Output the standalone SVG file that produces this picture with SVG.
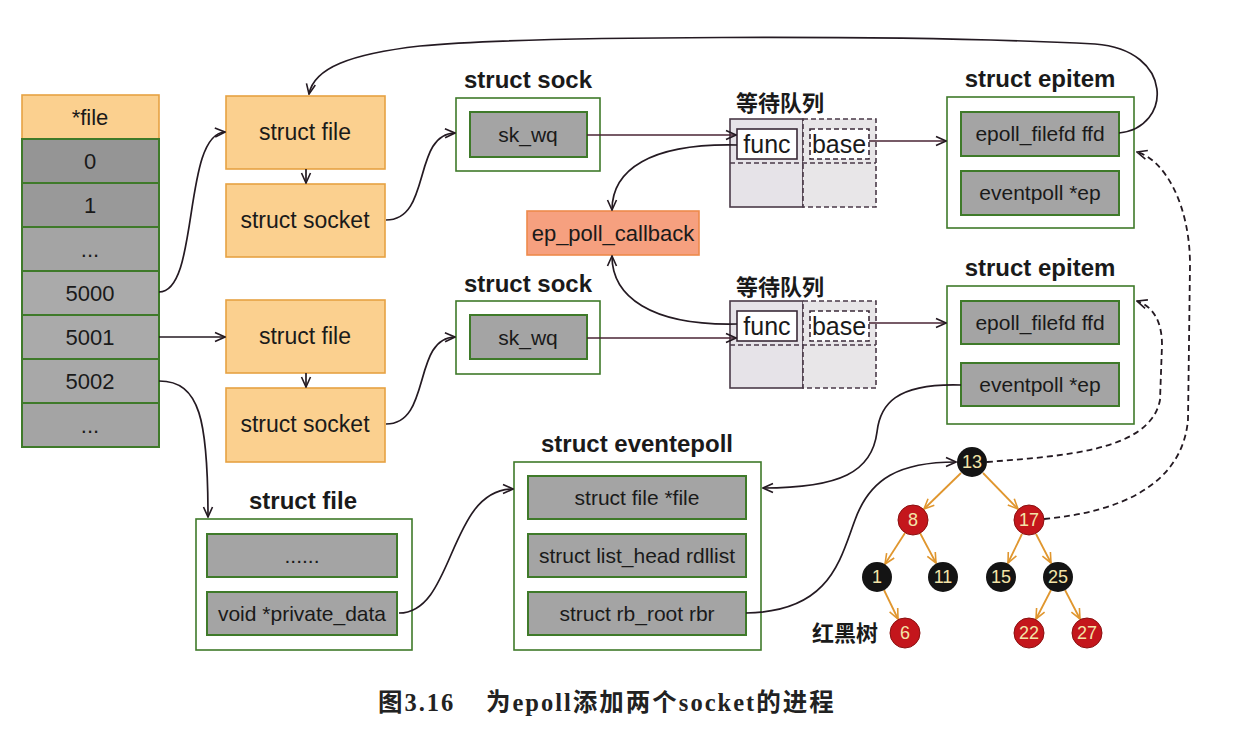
<svg xmlns="http://www.w3.org/2000/svg" width="1240" height="744" viewBox="0 0 1240 744">
<style>
text{font-family:"Liberation Sans",Arial,"Noto Sans CJK SC",sans-serif;fill:#1a1a1a}
.t22{font-size:22px}
.t23{font-size:23px}
.t21{font-size:21px}
.t25{font-size:25px}
.title{font-size:24px;font-weight:bold}
.cjk{font-family:"Noto Sans CJK SC",sans-serif;font-weight:bold;font-size:22px}
.gray{fill:#a4a4a4;stroke:#3f7a2a;stroke-width:2}
.gbox{fill:#ffffff;stroke:#3f7a2a;stroke-width:1.6}
.orange{fill:#fbd08f;stroke:#e6a243;stroke-width:1.6}
.cb{fill:#f6a07f;stroke:#ee8a4c;stroke-width:1.6}
.wq{fill:#e6e3e8;stroke:#4a3a48;stroke-width:1.6}
.wqd{fill:#e8e6e8;stroke:#4a3a48;stroke-width:1.6;stroke-dasharray:5 3}
.inw{fill:#ffffff;stroke:#3a2a38;stroke-width:1.6}
.inwd{fill:#ffffff;stroke:#3a2a38;stroke-width:1.6;stroke-dasharray:5 3}
.lnk{fill:none;stroke:#241a22;stroke-width:1.7;marker-end:url(#arr)}
.lnk2{fill:none;stroke:#4a2434;stroke-width:1.7;marker-end:url(#arr)}
.dash{fill:none;stroke:#241a22;stroke-width:1.8;stroke-dasharray:6 4;marker-end:url(#arr)}
.tedge{fill:none;stroke:#e0962e;stroke-width:1.8;marker-end:url(#arro)}
.bn{fill:#141414}
.rn{fill:#c4161c;stroke:#8a1010;stroke-width:1}
.nt{font-size:18px;fill:#f3e4a8;text-anchor:middle}
.cap{font-family:"Liberation Serif","Noto Sans CJK SC",serif;font-size:24.5px;font-weight:bold;fill:#222;letter-spacing:2px}
</style>
<defs>
<marker id="arr" viewBox="0 0 12 12" refX="11" refY="6" markerWidth="12" markerHeight="12" markerUnits="userSpaceOnUse" orient="auto">
<path d="M1,1.5 L11,6 L1,10.5" fill="none" stroke="#241a22" stroke-width="1.6"/>
</marker>
<marker id="arro" viewBox="0 0 12 12" refX="11" refY="6" markerWidth="12" markerHeight="12" markerUnits="userSpaceOnUse" orient="auto">
<path d="M1,1.5 L11,6 L1,10.5" fill="none" stroke="#e0962e" stroke-width="1.6"/>
</marker>
</defs>
<rect width="1240" height="744" fill="#ffffff"/>

<!-- fd table -->
<g id="fdtable" text-anchor="middle">
<rect x="22" y="95" width="137" height="44" class="orange"/>
<text x="90" y="125" class="t22">*file</text>
<rect x="22" y="139" width="137" height="44" class="gray" style="fill:#959595"/>
<text x="90" y="169" class="t22">0</text>
<rect x="22" y="183" width="137" height="44" class="gray" style="fill:#999999"/>
<text x="90" y="213" class="t22">1</text>
<rect x="22" y="227" width="137" height="44" class="gray"/>
<text x="90" y="257" class="t22">...</text>
<rect x="22" y="271" width="137" height="44" class="gray" style="fill:#aaaaaa"/>
<text x="90" y="301" class="t22">5000</text>
<rect x="22" y="315" width="137" height="44" class="gray" style="fill:#aaaaaa"/>
<text x="90" y="345" class="t22">5001</text>
<rect x="22" y="359" width="137" height="44" class="gray" style="fill:#a8a8a8"/>
<text x="90" y="389" class="t22">5002</text>
<rect x="22" y="403" width="137" height="44" class="gray"/>
<text x="90" y="433" class="t22">...</text>
</g>

<!-- first socket chain -->
<g id="file1" text-anchor="middle">
<rect x="226" y="96" width="159" height="73" class="orange"/>
<text x="305" y="140" class="t23">struct file</text>
</g>
<g id="socket1" text-anchor="middle">
<rect x="226" y="184" width="159" height="73" class="orange"/>
<text x="305" y="228" class="t23">struct socket</text>
</g>
<g id="sock1" text-anchor="middle">
<text x="528" y="88" class="title">struct sock</text>
<rect x="456" y="98" width="144" height="73" class="gbox"/>
<rect x="470" y="112" width="117" height="45" class="gray"/>
<text x="528" y="142" class="t21">sk_wq</text>
</g>
<g id="waitq1">
<text x="780" y="111" class="cjk" text-anchor="middle">等待队列</text>
<rect x="730" y="119" width="73" height="88" class="wq"/>
<rect x="803" y="119" width="73" height="88" class="wqd"/>
<line x1="730" y1="163" x2="876" y2="163" stroke="#4a3a48" stroke-width="1.6" stroke-dasharray="5 3"/>
<rect x="737" y="129" width="60" height="30" class="inw"/>
<rect x="810" y="129" width="59" height="30" class="inwd"/>
<text x="767" y="153" class="t25" text-anchor="middle">func</text>
<text x="839" y="153" class="t25" text-anchor="middle">base</text>
</g>
<g id="epitem1" text-anchor="middle">
<text x="1040" y="87" class="title">struct epitem</text>
<rect x="947" y="97" width="187" height="131" class="gbox"/>
<rect x="961" y="112" width="158" height="44" class="gray"/>
<text x="1040" y="141" class="t21">epoll_filefd ffd</text>
<rect x="961" y="171" width="158" height="44" class="gray"/>
<text x="1040" y="200" class="t21">eventpoll *ep</text>
</g>

<g id="callback" text-anchor="middle">
<rect x="527" y="211" width="172" height="44" class="cb"/>
<text x="613" y="241" class="t22">ep_poll_callback</text>
</g>

<!-- second socket chain -->
<g id="file2" text-anchor="middle">
<rect x="226" y="300" width="159" height="73" class="orange"/>
<text x="305" y="344" class="t23">struct file</text>
</g>
<g id="socket2" text-anchor="middle">
<rect x="226" y="388" width="159" height="74" class="orange"/>
<text x="305" y="432" class="t23">struct socket</text>
</g>
<g id="sock2" text-anchor="middle">
<text x="528" y="292" class="title">struct sock</text>
<rect x="456" y="301" width="144" height="73" class="gbox"/>
<rect x="470" y="315" width="117" height="44" class="gray"/>
<text x="528" y="345" class="t21">sk_wq</text>
</g>
<g id="waitq2">
<text x="780" y="295" class="cjk" text-anchor="middle">等待队列</text>
<rect x="730" y="301" width="73" height="87" class="wq"/>
<rect x="803" y="301" width="73" height="87" class="wqd"/>
<line x1="730" y1="345" x2="876" y2="345" stroke="#4a3a48" stroke-width="1.6" stroke-dasharray="5 3"/>
<rect x="737" y="311" width="60" height="30" class="inw"/>
<rect x="810" y="311" width="59" height="30" class="inwd"/>
<text x="767" y="335" class="t25" text-anchor="middle">func</text>
<text x="839" y="335" class="t25" text-anchor="middle">base</text>
</g>
<g id="epitem2" text-anchor="middle">
<text x="1040" y="276" class="title">struct epitem</text>
<rect x="947" y="286" width="187" height="138" class="gbox"/>
<rect x="961" y="301" width="158" height="43" class="gray"/>
<text x="1040" y="330" class="t21">epoll_filefd ffd</text>
<rect x="961" y="363" width="158" height="43" class="gray"/>
<text x="1040" y="392" class="t21">eventpoll *ep</text>
</g>

<!-- bottom structures -->
<g id="file3" text-anchor="middle">
<text x="303" y="509" class="title">struct file</text>
<rect x="196" y="519" width="216" height="131" class="gbox"/>
<rect x="207" y="534" width="190" height="43" class="gray"/>
<text x="302" y="563" class="t21">......</text>
<rect x="207" y="592" width="190" height="43" class="gray"/>
<text x="302" y="621" class="t21">void *private_data</text>
</g>
<g id="eventpoll" text-anchor="middle">
<text x="637" y="452" class="title">struct eventepoll</text>
<rect x="514" y="462" width="247" height="188" class="gbox"/>
<rect x="528" y="476" width="218" height="43" class="gray"/>
<text x="637" y="505" class="t21">struct file *file</text>
<rect x="528" y="534" width="218" height="43" class="gray"/>
<text x="637" y="563" class="t21">struct list_head rdllist</text>
<rect x="528" y="592" width="218" height="43" class="gray"/>
<text x="637" y="621" class="t21">struct rb_root rbr</text>
</g>

<!-- connectors -->
<g id="connectors">
<path class="lnk" d="M159,292 C 200,292 182,134 225,132"/>
<path class="lnk" d="M159,337 L225,337"/>
<path class="lnk" d="M159,381 C 200,381 208,420 208,517"/>
<path class="lnk" d="M306,169 L306,183"/>
<path class="lnk" d="M306,373 L306,387"/>
<path class="lnk" d="M386,220 C 432,220 412,134 455,133"/>
<path class="lnk" d="M386,424 C 432,424 412,338 455,337"/>
<path class="lnk2" d="M587,135 L736,135"/>
<path class="lnk2" d="M587,338 L736,338"/>
<path class="lnk" d="M737,145 C 650,143 612,170 612,210"/>
<path class="lnk" d="M737,324 C 650,326 612,296 612,256"/>
<path class="lnk2" d="M869,141 L946,141"/>
<path class="lnk2" d="M869,323 L946,323"/>
<path class="lnk" d="M1119,133 C 1172,128 1175,50 1095,44 C 900,34 520,36 420,46 C 350,54 314,68 309,94"/>
<path class="lnk" d="M961,385 C 895,383 880,405 877,432 C 872,472 840,488 763,488"/>
<path class="lnk" d="M399,613 C 455,613 448,489 513,489"/>
<path class="lnk" d="M746,613 C 830,612 840,560 855,520 C 870,478 900,462 956,462"/>
<path class="dash" d="M987,462 C 1060,456 1150,452 1160,400 L 1162,345 C 1162,320 1152,306 1137,301"/>
<path class="dash" d="M1044,519 C 1120,512 1182,485 1188,420 L 1190,265 C 1190,205 1165,160 1137,152"/>
</g>

<!-- red-black tree -->
<g id="rbtree-edges">
<line class="tedge" x1="961" y1="473" x2="924" y2="509"/>
<line class="tedge" x1="983" y1="473" x2="1018" y2="509"/>
<line class="tedge" x1="905" y1="533" x2="885" y2="564"/>
<line class="tedge" x1="920" y1="533" x2="936" y2="563"/>
<line class="tedge" x1="1022" y1="534" x2="1008" y2="563"/>
<line class="tedge" x1="1036" y1="534" x2="1051" y2="563"/>
<line class="tedge" x1="884" y1="590" x2="898" y2="619"/>
<line class="tedge" x1="1051" y1="590" x2="1036" y2="619"/>
<line class="tedge" x1="1065" y1="590" x2="1080" y2="619"/>
</g>
<g id="n13"><circle cx="972" cy="462" r="15" class="bn"/><text x="972" y="468" class="nt">13</text></g>
<g id="n8"><circle cx="913" cy="520" r="15" class="rn"/><text x="913" y="526" class="nt">8</text></g>
<g id="n17"><circle cx="1029" cy="520" r="15" class="rn"/><text x="1029" y="526" class="nt">17</text></g>
<g id="n1"><circle cx="877" cy="577" r="15" class="bn"/><text x="877" y="583" class="nt">1</text></g>
<g id="n11"><circle cx="943" cy="577" r="15" class="bn"/><text x="943" y="583" class="nt">11</text></g>
<g id="n15"><circle cx="1001" cy="577" r="15" class="bn"/><text x="1001" y="583" class="nt">15</text></g>
<g id="n25"><circle cx="1058" cy="577" r="15" class="bn"/><text x="1058" y="583" class="nt">25</text></g>
<g id="n6"><circle cx="905" cy="633" r="15" class="rn"/><text x="905" y="639" class="nt">6</text></g>
<g id="n22"><circle cx="1029" cy="633" r="15" class="rn"/><text x="1029" y="639" class="nt">22</text></g>
<g id="n27"><circle cx="1087" cy="633" r="15" class="rn"/><text x="1087" y="639" class="nt">27</text></g>
<text x="812" y="641" class="cjk">红黑树</text>

<!-- caption -->
<text x="378" y="711" class="cap">图3.16</text>
<text x="486" y="711" class="cap">为epoll添加两个socket的进程</text>
</svg>
